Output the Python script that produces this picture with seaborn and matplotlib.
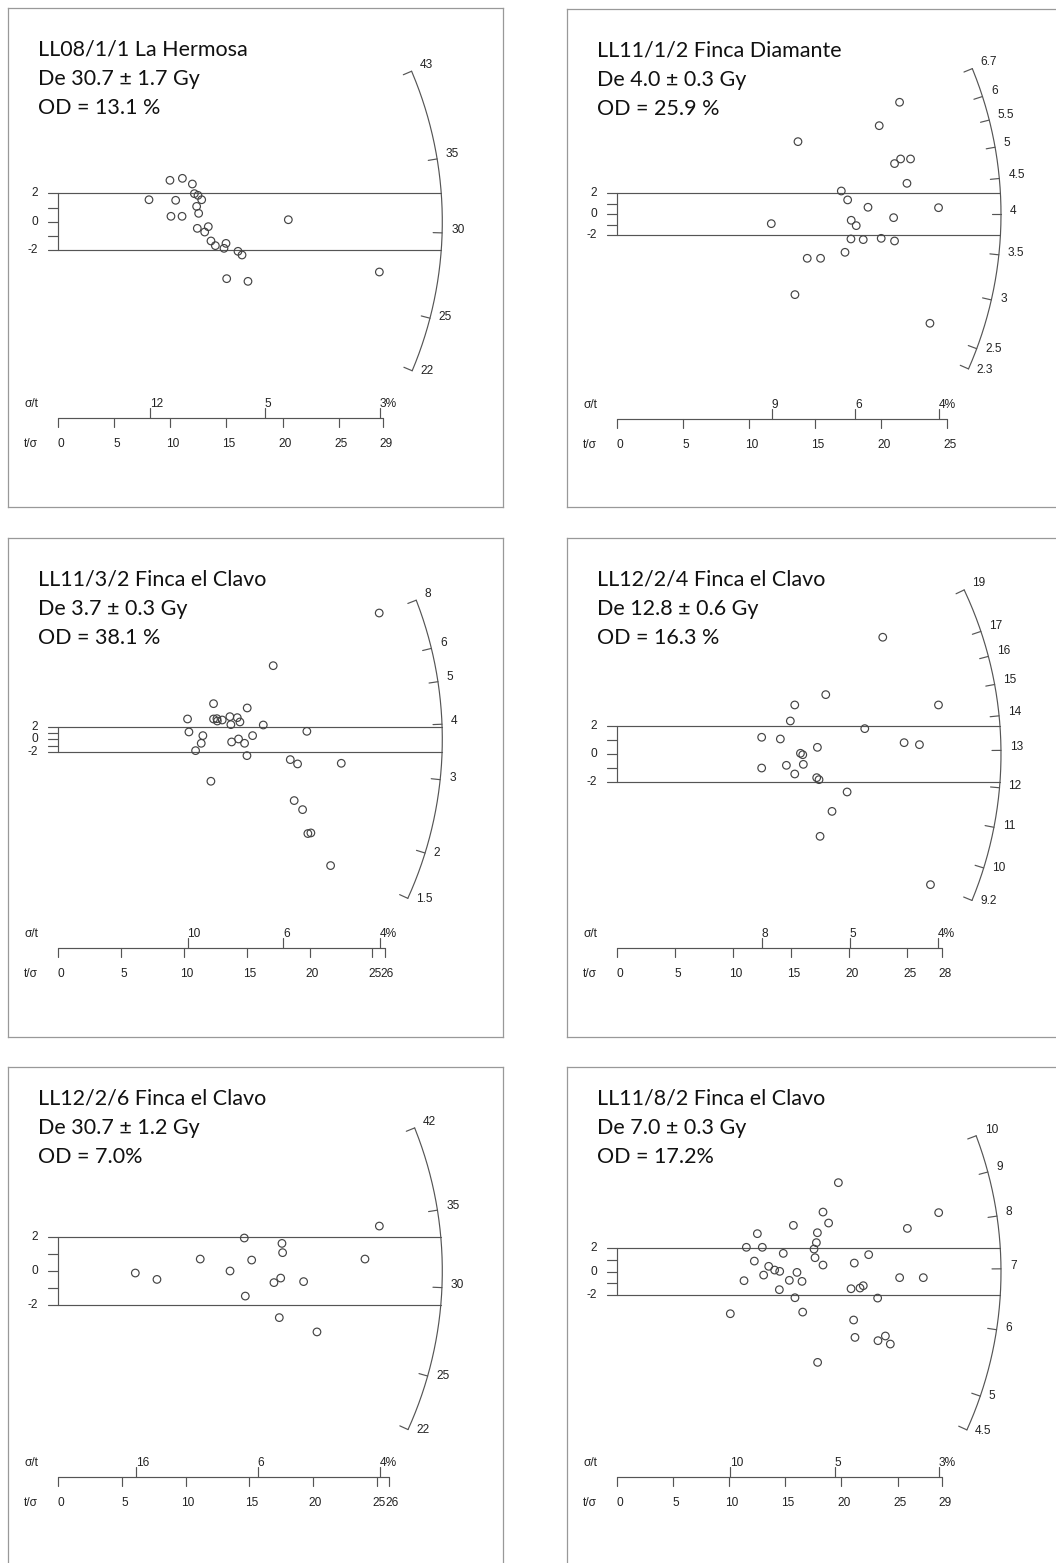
import numpy as np
import matplotlib.pyplot as plt
import seaborn as sns

sns.set_style('white')
plt.rcParams['font.family'] = ['Liberation Sans', 'DejaVu Sans']

# ---- data (t/sigma = precision, z = standardised estimate) ----
titles = ['LL08/1/1 La Hermosa', 'LL11/1/2 Finca Diamante', 'LL11/3/2 Finca el Clavo',
          'LL12/2/4 Finca el Clavo', 'LL12/2/6 Finca el Clavo', 'LL11/8/2 Finca el Clavo']
de_text = ['De 30.7 ± 1.7 Gy', 'De 4.0 ± 0.3 Gy', 'De 3.7 ± 0.3 Gy',
           'De 12.8 ± 0.6 Gy', 'De 30.7 ± 1.2 Gy', 'De 7.0 ± 0.3 Gy']
od_text = ['OD = 13.1 %', 'OD = 25.9 %', 'OD = 38.1 %', 'OD = 16.3 %', 'OD = 7.0%', 'OD = 17.2%']
central = [30.7, 4.0, 3.7, 12.9, 31.0, 6.95]
prec_max = [29, 25, 26, 28, 26, 29]

prec1 = [8.09, 9.96, 11.07, 11.96, 10.47, 10.05, 11.04, 12.14, 12.46, 12.79, 12.34, 12.52, 12.40,
         13.38, 13.06, 13.62, 14.01, 14.78, 14.96, 16.03, 16.39, 15.02, 16.92, 20.52, 28.64]
std1 = [1.55, 2.92, 3.06, 2.66, 1.51, 0.38, 0.38, 1.98, 1.86, 1.55, 1.08, 0.59, -0.47,
        -0.35, -0.73, -1.36, -1.69, -1.88, -1.53, -2.09, -2.35, -4.02, -4.21, 0.14, -3.55]
arc1 = [22, 25, 30, 35, 43]
rel1_pos, rel1_lab = [8.2, 18.4, 28.7], ['12', '5', '3%']

prec2 = [13.70, 21.39, 19.85, 21.01, 21.47, 22.22, 21.95, 16.98, 17.46, 19.00, 24.34, 11.68,
         17.73, 18.11, 20.94, 17.71, 18.64, 20.00, 21.01, 17.26, 14.40, 15.41, 13.47, 23.69]
std2 = [6.92, 10.67, 8.44, 4.83, 5.27, 5.27, 2.95, 2.22, 1.37, 0.67, 0.63, -0.89,
        -0.57, -1.08, -0.32, -2.35, -2.41, -2.29, -2.54, -3.62, -4.19, -4.19, -7.65, -10.38]
arc2 = [2.3, 2.5, 3, 3.5, 4, 4.5, 5, 5.5, 6, 6.7]
rel2_pos, rel2_lab = [11.73, 18.04, 24.34], ['9', '6', '4%']

prec3 = [25.55, 17.11, 12.36, 15.04, 10.29, 12.36, 12.63, 12.66, 13.05, 13.66, 14.25, 14.46,
         13.74, 16.32, 10.40, 11.51, 11.38, 10.93, 15.47, 14.35, 13.80, 14.83, 15.02, 19.79,
         18.47, 19.05, 22.53, 12.15, 18.78, 19.45, 19.87, 20.11, 21.68]
std3 = [19.95, 11.63, 5.63, 4.95, 3.21, 3.21, 3.26, 2.89, 3.05, 3.58, 3.42, 2.74,
        2.32, 2.26, 1.16, 0.58, -0.63, -1.79, 0.58, 0.05, -0.42, -0.63, -2.58, 1.26,
        -3.21, -3.89, -3.79, -6.63, -9.68, -11.11, -14.89, -14.79, -19.95]
arc3 = [1.5, 2, 3, 4, 5, 6, 8]
rel3_pos, rel3_lab = [10.29, 17.91, 25.6], ['10', '6', '4%']

prec4 = [22.89, 17.98, 15.31, 27.69, 14.93, 21.34, 12.46, 14.07, 17.26, 24.73, 26.05, 15.80,
         16.00, 16.05, 14.59, 12.46, 15.31, 17.20, 17.40, 19.82, 18.52, 17.49, 27.00]
std4 = [8.24, 4.19, 3.46, 3.46, 2.33, 1.79, 1.18, 1.06, 0.47, 0.80, 0.66, 0.05,
        -0.05, -0.73, -0.80, -0.99, -1.41, -1.67, -1.81, -2.68, -4.05, -5.81, -9.22]
arc4 = [9.2, 10, 11, 12, 13, 14, 15, 16, 17, 19]
rel4_pos, rel4_lab = [12.46, 20.05, 27.66], ['8', '5', '4%']

prec5 = [6.05, 7.75, 11.15, 13.49, 14.61, 15.19, 14.69, 17.57, 17.62, 16.94, 17.47, 19.27,
         17.36, 20.32, 24.09, 25.22]
std5 = [-0.12, -0.50, 0.71, 0.00, 1.96, 0.65, -1.49, 1.64, 1.09, -0.69, -0.42, -0.63,
        -2.77, -3.62, 0.71, 2.67]
arc5 = [22, 25, 30, 35, 42]
rel5_pos, rel5_lab = [6.07, 15.66, 25.27], ['16', '6', '4%']

prec6 = [19.73, 18.36, 18.86, 28.67, 15.72, 25.88, 12.51, 17.86, 17.77, 11.53, 12.95, 17.56,
         17.65, 14.82, 22.43, 12.24, 13.52, 18.36, 21.15, 14.05, 14.50, 16.04, 13.07, 11.32,
         15.36, 16.49, 14.47, 20.86, 21.66, 21.95, 25.19, 27.30, 15.86, 23.23, 10.10, 16.55,
         21.09, 21.21, 23.26, 23.92, 24.36, 17.88]
std6 = [7.63, 5.11, 4.17, 5.06, 3.97, 3.71, 3.26, 3.34, 2.49, 2.09, 2.09, 1.94,
        1.20, 1.57, 1.46, 0.91, 0.46, 0.57, 0.74, 0.14, 0.03, -0.06, -0.29, -0.77,
        -0.74, -0.83, -1.54, -1.46, -1.40, -1.20, -0.51, -0.51, -2.23, -2.26, -3.60, -3.46,
        -4.14, -5.63, -5.91, -5.51, -6.20, -7.77]
arc6 = [4.5, 5, 6, 7, 8, 9, 10]
rel6_pos, rel6_lab = [10.10, 19.40, 28.67], ['10', '5', '3%']

precs = [prec1, prec2, prec3, prec4, prec5, prec6]
stds = [std1, std2, std3, std4, std5, std6]
arcs = [arc1, arc2, arc3, arc4, arc5, arc6]
rel_pos = [rel1_pos, rel2_pos, rel3_pos, rel4_pos, rel5_pos, rel6_pos]
rel_lab = [rel1_lab, rel2_lab, rel3_lab, rel4_lab, rel5_lab, rel6_lab]

# ---- layout in pixels: box (L, T, R, B), origin (x0, y0), px per unit (sx, sy) ----
W, H = 1056, 1563
boxes = [(8.3, 8.3, 503, 507), (567.3, 9.3, 1062, 507.3),
         (8.3, 538.3, 503, 1036.7), (567, 538.3, 1062, 1037.3),
         (8.3, 1067.3, 503, 1570), (567.3, 1067.3, 1062, 1570)]
origins = [(58.3, 221.7), (617, 214.3), (58.3, 739.3), (617, 754), (58.3, 1271), (617, 1271.7)]
scales = [(11.21, 14.17), (13.21, 10.5), (12.56, 6.33), (11.61, 14.17), (12.73, 16.83), (11.22, 11.67)]
title_off = [41, 41, 41, 41, 31, 31]
R = 384  # arc radius in px
LC = '#555555'
LW = 0.85
FS = 8.6
TC = '#222222'

fig = plt.figure(figsize=(W / 100, H / 100), dpi=100)

for i in range(6):
    L, T, Rr, B = boxes[i]
    x0, y0 = origins[i]
    sx, sy = scales[i]
    ax = fig.add_axes([L / W, 1 - B / H, (Rr - L) / W, (B - T) / H])

    sns.scatterplot(x=precs[i], y=stds[i], ax=ax, s=30, marker='o',
                    facecolors='none', edgecolor='#444444', linewidth=0.85, zorder=3)

    # z-axis arc
    ln0 = np.log(central[i])
    ang = lambda d: np.arctan((np.log(d) - ln0) * sy / sx)
    th = np.linspace(ang(min(arcs[i])), ang(max(arcs[i])), 300)
    ax.plot(R * np.cos(th) / sx, R * np.sin(th) / sy, color=LC, lw=LW)
    for d in arcs[i]:
        a = ang(d)
        c, s_ = np.cos(a), np.sin(a)
        ax.plot([R * c / sx, (R - 9) * c / sx], [R * s_ / sy, (R - 9) * s_ / sy], color=LC, lw=LW)
        ax.text((R + 9) * c / sx, (R + 9) * s_ / sy + 3 / sy, f'{d:g}', ha='left', va='center',
                fontsize=FS, color=TC)

    # +/-2 band
    for zz in (-2, 2):
        xe = np.sqrt(R ** 2 - (zz * sy) ** 2) / sx
        ax.plot([0, xe], [zz, zz], color=LC, lw=LW)

    # y axis
    ax.plot([0, 0], [-2, 2], color=LC, lw=LW)
    for k in range(-2, 3):
        ax.plot([-10 / sx, 0], [k, k], color=LC, lw=LW)
    for k in (-2, 0, 2):
        ax.text(-20 / sx, k, str(k), ha='right', va='center', fontsize=FS, color=TC)

    # precision axis
    yb = (y0 - (T + 410)) / sy
    tmax = prec_max[i]
    ax.plot([0, tmax], [yb, yb], color=LC, lw=LW)
    tticks = [v for v in range(0, tmax + 1, 5)]
    if tticks[-1] != tmax:
        tticks.append(tmax)
    for v in tticks:
        ax.plot([v, v], [yb, yb - 9 / sy], color=LC, lw=LW)
        ax.text(v + 2.5 / sx, yb - 26 / sy, str(v), ha='center', va='center', fontsize=FS, color=TC)
    for p, lab in zip(rel_pos[i], rel_lab[i]):
        ax.plot([p, p], [yb, yb + 10 / sy], color=LC, lw=LW)
        ax.text(p, yb + 14 / sy, lab, ha='left', va='center', fontsize=FS, color=TC)
    ax.text(-27 / sx, yb + 14 / sy, 'σ/t', ha='center', va='center', fontsize=FS, color=TC)
    ax.text(-27 / sx, yb - 26 / sy, 't/σ', ha='center', va='center', fontsize=FS, color=TC)

    # title block
    for j, line in enumerate([titles[i], de_text[i], od_text[i]]):
        ax.text((L + 30 - x0) / sx, (y0 - (T + title_off[i] + 29.5 * j)) / sy, line,
                ha='left', va='center', fontsize=15.5, family='Lato', color='#111111')

    ax.set_xlim((L - x0) / sx, (Rr - x0) / sx)
    ax.set_ylim((y0 - B) / sy, (y0 - T) / sy)
    ax.set_xticks([])
    ax.set_yticks([])
    ax.set_xlabel('')
    ax.set_ylabel('')
    for sp in ax.spines.values():
        sp.set_color('#999999')
        sp.set_linewidth(0.9)

fig.savefig('out.png', dpi=100)
